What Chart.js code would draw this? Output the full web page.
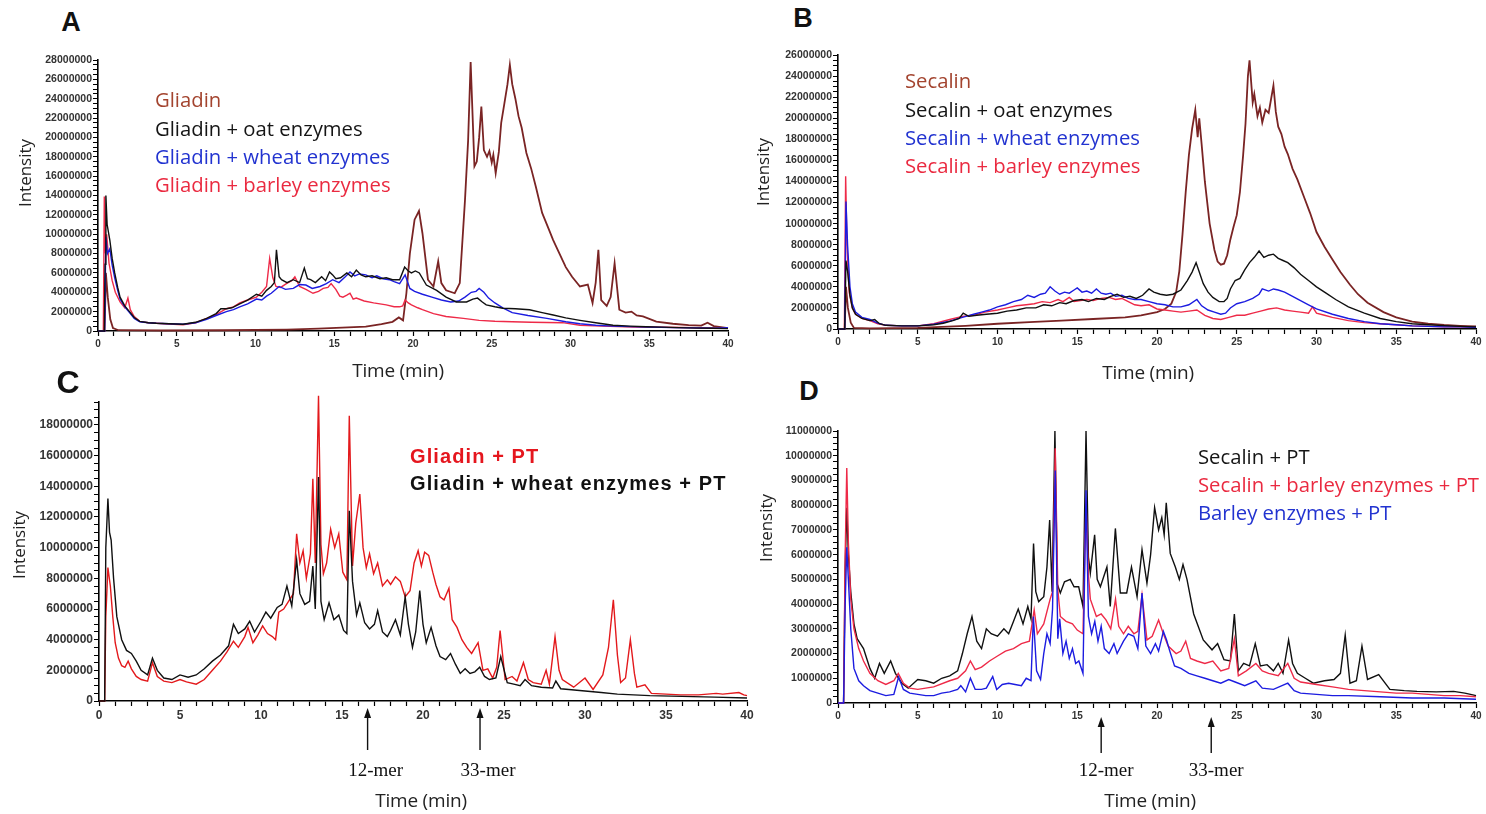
<!DOCTYPE html>
<html>
<head>
<meta charset="utf-8">
<title>Chromatograms</title>
<script src="https://cdn.jsdelivr.net/npm/chart.js@4.4.0/dist/chart.umd.min.js"></script>
<style>
  body { margin: 0; width: 1486px; height: 814px; background: #fff; position: relative; overflow: hidden; font-family: "Open Sans", Lato, sans-serif; }
  canvas { position: absolute; }
  .t { position: absolute; white-space: nowrap; line-height: 1; }
  .c { transform: translate(-50%, -50%); }
  .l { transform: translate(0, -50%); }
  .letter { font-family: "Liberation Sans", Arial, sans-serif; font-weight: bold; font-size: 27px; color: #111; }
  .ytitle { font-size: 17px; color: #222; transform: translate(-50%, -50%) rotate(-90deg); }
  .xtitle { font-size: 19px; color: #222; letter-spacing: -0.2px; }
  .leg { font-size: 20.3px; }
  .legc { font-family: "Liberation Sans", Arial, sans-serif; font-weight: bold; font-size: 20px; letter-spacing: 1.1px; }
</style>
</head>
<body>
<canvas id="chartA"></canvas>
<canvas id="chartB"></canvas>
<canvas id="chartC"></canvas>
<canvas id="chartD"></canvas>

<div class="t c letter" style="left:71px;top:22px">A</div>
<div class="t c letter" style="left:803px;top:18px">B</div>
<div class="t c letter" style="left:68px;top:382px;font-size:32px">C</div>
<div class="t c letter" style="left:809px;top:391px">D</div>

<div class="t ytitle" style="left:24px;top:173px">Intensity</div>
<div class="t ytitle" style="left:762px;top:172px">Intensity</div>
<div class="t ytitle" style="left:18px;top:545px">Intensity</div>
<div class="t ytitle" style="left:765px;top:528px">Intensity</div>

<div class="t c xtitle" style="left:398px;top:370px">Time (min)</div>
<div class="t c xtitle" style="left:1148px;top:372px">Time (min)</div>
<div class="t c xtitle" style="left:421px;top:800px">Time (min)</div>
<div class="t c xtitle" style="left:1150px;top:800px">Time (min)</div>

<div class="t l leg" style="left:155px;top:99px;color:#a3442f">Gliadin</div>
<div class="t l leg" style="left:155px;top:128px;color:#151515">Gliadin + oat enzymes</div>
<div class="t l leg" style="left:155px;top:156px;color:#2233d0">Gliadin + wheat enzymes</div>
<div class="t l leg" style="left:155px;top:184px;color:#ea2a40">Gliadin + barley enzymes</div>

<div class="t l leg" style="left:905px;top:80px;color:#a3442f">Secalin</div>
<div class="t l leg" style="left:905px;top:109px;color:#151515">Secalin + oat enzymes</div>
<div class="t l leg" style="left:905px;top:137px;color:#2233d0">Secalin + wheat enzymes</div>
<div class="t l leg" style="left:905px;top:165px;color:#ea2a40">Secalin + barley enzymes</div>

<div class="t l legc" style="left:410px;top:456px;color:#e5161e">Gliadin + PT</div>
<div class="t l legc" style="left:410px;top:483px;color:#111">Gliadin + wheat enzymes + PT</div>

<div class="t l leg" style="left:1198px;top:456px;color:#151515">Secalin + PT</div>
<div class="t l leg" style="left:1198px;top:484px;color:#ea2a40">Secalin + barley enzymes + PT</div>
<div class="t l leg" style="left:1198px;top:512px;color:#2233d0">Barley enzymes + PT</div>

<script>
// values are [time in min, intensity in millions]

// panel A
const gliadinA = [[0,0],[0.42,0],[0.5,6],[0.62,3.5],[0.78,1.2],[0.95,0.3],[1.3,0.08],[4,0.05],[8,0.08],[12,0.15],[14,0.25],[15.5,0.35],[17,0.45],[18,0.7],[18.7,0.95],[19.1,1.4],[19.37,1.1],[19.58,3.9],[19.8,8.0],[20.1,11.5],[20.38,12.4],[20.6,10.1],[20.95,5.3],[21.3,4.6],[21.6,7.2],[21.8,4.95],[22.1,4.2],[22.65,3.9],[22.97,4.95],[23.3,13.5],[23.5,19.7],[23.66,27.8],[23.9,17.0],[24.05,17.5],[24.2,20],[24.34,23.2],[24.5,18.7],[24.7,18.0],[24.85,18.6],[25.0,17.4],[25.1,18.2],[25.25,16.3],[25.45,18.5],[25.6,21.5],[25.8,23.5],[26.0,25.5],[26.15,27.5],[26.3,25.5],[26.5,24],[26.7,22.2],[26.9,21],[27.2,18.4],[27.5,16.8],[27.8,14.9],[28.2,12.2],[28.6,10.6],[28.9,9.4],[29.3,8.0],[29.7,6.6],[30.1,5.6],[30.6,4.6],[31.1,4.8],[31.4,2.9],[31.6,5.0],[31.77,8.4],[31.95,3.2],[32.3,2.6],[32.55,3.5],[32.8,7.0],[33.1,2.2],[33.5,1.9],[33.87,2.0],[34.2,1.6],[34.6,1.5],[35.45,0.96],[36.5,0.75],[37.5,0.6],[38.3,0.55],[38.7,0.86],[39.1,0.5],[40,0.3]];
const oatA = [[0,0],[0.4,0],[0.45,6.9],[0.5,14.0],[0.58,11],[0.75,9.4],[0.9,7.5],[1.06,6.0],[1.25,4.5],[1.4,3.5],[1.7,2.6],[2.0,2.0],[2.3,1.4],[2.65,1.0],[3.2,0.85],[3.7,0.8],[4.5,0.75],[5.4,0.7],[6.2,0.9],[6.9,1.3],[7.5,1.8],[7.8,2.3],[8.15,2.3],[8.5,2.4],[9.0,2.8],[9.5,3.2],[10.06,3.8],[10.4,3.6],[10.7,4.2],[11.0,4.6],[11.2,5.0],[11.33,8.4],[11.5,5.6],[11.65,5.3],[12.0,5.0],[12.4,5.3],[12.8,5.0],[13.1,6.5],[13.3,5.4],[13.5,5.3],[13.8,5.0],[14.2,5.6],[14.45,5.2],[14.7,6.1],[14.9,5.8],[15.1,5.4],[15.4,5.5],[15.8,6.0],[16.1,5.6],[16.4,6.3],[16.7,5.8],[17.0,5.6],[17.4,5.7],[17.9,5.4],[18.3,5.5],[18.7,5.3],[19.15,5.3],[19.47,6.6],[19.7,6.2],[19.9,6.0],[20.15,6.2],[20.4,6.0],[20.85,4.75],[21.5,4.2],[22.1,3.5],[22.75,3.0],[23.4,3.0],[23.8,3.3],[24.1,3.4],[24.4,3.0],[24.65,2.7],[25.2,2.5],[25.7,2.35],[26.5,2.3],[27.4,2.2],[28.2,1.9],[28.9,1.65],[29.7,1.35],[30.6,1.1],[31.6,0.85],[32.7,0.6],[33.8,0.5],[34.8,0.44],[35.8,0.4],[36.9,0.35],[38,0.3],[39,0.28],[40,0.25]];
const wheatA = [[0,0],[0.42,0],[0.5,9.7],[0.6,8],[0.75,8.5],[0.9,6.8],[1.06,5.5],[1.25,4.2],[1.4,3.3],[1.7,2.5],[2.0,1.9],[2.3,1.3],[2.65,0.95],[3.2,0.85],[3.7,0.8],[4.5,0.75],[5.4,0.7],[6.2,0.85],[6.9,1.2],[7.5,1.6],[8.15,2.0],[8.6,2.2],[9.0,2.5],[9.5,2.8],[10.06,3.3],[10.4,3.2],[10.7,3.6],[11.0,3.9],[11.5,4.6],[11.9,4.3],[12.4,4.4],[12.8,4.8],[13.2,4.75],[13.6,4.4],[14.1,4.6],[14.5,4.9],[14.9,5.3],[15.3,5.0],[15.7,5.6],[16.0,6.1],[16.3,5.7],[16.6,5.9],[17.0,5.8],[17.4,5.5],[17.7,5.7],[18.1,5.4],[18.5,5.3],[18.8,5.1],[19.15,4.9],[19.5,5.8],[19.8,4.4],[20.1,4.1],[20.6,3.8],[21.2,3.5],[21.8,3.2],[22.4,3.0],[22.9,3.1],[23.3,3.5],[23.7,4.0],[24.0,4.1],[24.2,4.4],[24.5,4.0],[24.8,3.4],[25.2,2.9],[25.7,2.4],[26.3,1.9],[27.3,1.6],[28.5,1.3],[29.7,0.95],[30.6,0.75],[31.6,0.6],[32.7,0.5],[33.8,0.45],[35,0.4],[36.5,0.35],[38,0.32],[39.2,0.3],[40,0.35]];
const barleyA = [[0,0],[0.34,0],[0.4,13.9],[0.47,8],[0.55,10],[0.7,7],[0.9,5.2],[1.1,4.0],[1.4,3.0],[1.7,2.4],[1.9,3.4],[2.05,2.2],[2.3,1.5],[2.65,1.0],[3.2,0.85],[3.7,0.8],[4.5,0.72],[5.4,0.65],[6.2,0.85],[6.9,1.3],[7.5,1.7],[8.15,2.3],[8.6,2.5],[9.0,2.9],[9.5,3.2],[10.06,3.5],[10.4,4.0],[10.7,4.6],[10.9,7.5],[11.1,5.5],[11.3,4.6],[11.6,4.5],[11.96,4.9],[12.3,5.2],[12.5,5.6],[12.8,4.6],[13.2,4.3],[13.65,3.9],[14.0,4.1],[14.3,4.4],[14.6,4.5],[14.8,4.9],[15.1,4.3],[15.35,3.6],[15.55,3.5],[15.8,3.7],[16.0,3.9],[16.2,3.3],[16.4,3.4],[16.9,3.1],[17.5,2.9],[18.3,2.7],[18.8,2.5],[19.15,2.5],[19.35,2.6],[19.5,3.2],[19.7,2.9],[19.9,2.7],[20.3,2.4],[20.6,2.2],[21.3,1.8],[22.1,1.5],[23.2,1.3],[24.2,1.1],[25.2,1.0],[26.3,0.96],[27.5,0.9],[28.5,0.88],[29.5,0.86],[30.6,0.6],[32,0.5],[34,0.42],[36,0.38],[38,0.33],[40,0.3]];

// panel B
const secalinB = [[0,0],[0.42,0],[0.5,4],[0.62,2],[0.8,0.6],[1.0,0.1],[2,0.05],[5,0.1],[8,0.3],[10,0.5],[12,0.65],[14,0.8],[16,0.95],[18,1.1],[19,1.3],[20,1.6],[20.5,1.9],[20.9,2.4],[21.2,3.5],[21.4,5.5],[21.6,9],[21.8,13],[22.0,16.5],[22.2,19],[22.4,20.8],[22.55,18.2],[22.65,20.0],[22.8,17.5],[23.0,14],[23.3,10],[23.6,7.5],[23.8,6.4],[24.0,6.1],[24.2,6.2],[24.4,7.0],[24.6,8.5],[24.8,9.7],[25.0,10.8],[25.2,13],[25.4,16.5],[25.55,19.5],[25.7,24],[25.8,25.5],[25.9,23.5],[26.0,21.5],[26.1,22.3],[26.3,20.2],[26.45,21],[26.6,19.6],[26.8,20.8],[27.0,20.5],[27.15,21.8],[27.3,23.1],[27.45,20.6],[27.6,19.2],[27.8,18.5],[28.0,17.3],[28.2,16.6],[28.5,15.2],[28.8,14.2],[29.2,12.6],[29.6,11],[30.0,9.2],[30.5,7.8],[31.0,6.6],[31.5,5.4],[32.1,4.2],[32.6,3.3],[33.2,2.5],[34.2,1.6],[35,1.1],[36,0.7],[37,0.5],[38,0.38],[39,0.3],[40,0.25]];
const oatB = [[0,0],[0.42,0],[0.5,6.5],[0.6,5.5],[0.75,3.2],[0.9,2.0],[1.1,1.4],[1.5,1.0],[2.0,0.8],[2.3,0.9],[2.6,0.5],[3,0.35],[4,0.3],[5,0.3],[6,0.4],[6.6,0.55],[7.2,0.8],[7.6,1.0],[7.85,1.5],[8.2,1.2],[8.7,1.3],[9.3,1.4],[10,1.5],[10.6,1.7],[11.2,1.8],[11.8,2.0],[12.4,2.0],[12.9,2.3],[13.4,2.2],[13.9,2.5],[14.3,2.4],[14.8,2.7],[15.3,2.8],[15.7,2.6],[16.2,2.9],[16.7,2.8],[17.1,3.1],[17.5,3.3],[17.9,3.0],[18.3,3.1],[18.7,2.9],[19.1,3.2],[19.5,3.8],[19.8,3.5],[20.2,3.3],[20.6,3.2],[21.0,3.3],[21.5,3.7],[21.9,4.6],[22.2,5.4],[22.45,6.3],[22.65,5.4],[22.9,4.3],[23.2,3.5],[23.5,3.0],[23.9,2.6],[24.2,2.6],[24.4,2.9],[24.6,3.8],[24.9,4.6],[25.2,4.8],[25.5,5.6],[25.8,6.3],[26.1,6.8],[26.4,7.4],[26.7,6.8],[27.0,7.0],[27.3,7.1],[27.6,6.7],[27.9,6.5],[28.2,6.3],[28.6,5.8],[29.0,5.2],[29.5,4.6],[30.0,4.0],[30.6,3.4],[31.2,2.8],[32.0,2.1],[33.0,1.5],[34,1.0],[35,0.7],[36,0.5],[37,0.4],[38,0.32],[39,0.25],[40,0.2]];
const wheatB = [[0,0],[0.42,0],[0.5,12.1],[0.6,8],[0.75,4],[0.9,2.4],[1.1,1.6],[1.5,1.1],[2.0,0.9],[2.5,0.55],[3,0.35],[4,0.3],[5,0.3],[6,0.45],[7,0.75],[7.8,1.1],[8.5,1.4],[9.0,1.6],[9.5,1.8],[10.0,2.1],[10.5,2.3],[11.0,2.6],[11.5,2.8],[11.9,3.2],[12.3,3.0],[12.7,3.3],[13.0,3.4],[13.3,4.0],[13.6,3.6],[13.9,3.3],[14.2,3.5],[14.5,3.4],[14.8,3.7],[15.0,3.9],[15.3,3.5],[15.6,3.6],[15.9,3.4],[16.2,3.8],[16.5,3.4],[16.8,3.3],[17.1,3.4],[17.4,3.1],[17.8,3.2],[18.2,2.9],[18.6,2.8],[19.0,2.8],[19.5,2.6],[20.0,2.4],[20.5,2.3],[21.0,2.1],[21.5,2.1],[22.0,2.3],[22.5,2.8],[22.8,2.2],[23.2,1.8],[23.6,1.6],[24.0,1.4],[24.3,1.5],[24.6,2.0],[25.0,2.4],[25.5,2.6],[26.0,2.9],[26.4,3.3],[26.6,3.8],[27.0,3.6],[27.3,3.8],[27.6,3.7],[28.0,3.5],[28.5,3.1],[29.0,2.7],[29.5,2.3],[30.0,1.9],[31.0,1.4],[32.0,1.0],[33,0.7],[34,0.5],[35,0.4],[36,0.3],[37,0.25],[38,0.2],[39,0.2],[40,0.15]];
const barleyB = [[0,0],[0.4,0],[0.48,14.5],[0.56,8],[0.7,3.5],[0.9,2.0],[1.1,1.4],[1.5,1.0],[2.0,0.8],[2.5,0.5],[3,0.35],[4,0.3],[5,0.3],[6,0.5],[7,0.9],[7.8,1.2],[8.5,1.3],[9.2,1.6],[10,1.8],[10.6,2.0],[11.2,2.2],[11.8,2.3],[12.3,2.4],[12.8,2.6],[13.3,2.5],[13.8,2.8],[14.1,2.6],[14.5,3.0],[14.8,2.6],[15.2,2.7],[15.6,2.8],[16.0,2.7],[16.5,2.9],[17.0,3.0],[17.4,2.8],[17.8,2.9],[18.2,2.6],[18.6,2.3],[19.0,2.2],[19.5,2.3],[20.0,1.9],[20.5,1.8],[21.0,1.7],[21.5,1.6],[22.0,1.7],[22.5,1.8],[23.0,1.3],[23.5,1.0],[24.0,0.9],[24.5,1.1],[25.0,1.3],[25.5,1.3],[26.0,1.5],[26.5,1.7],[27.0,1.9],[27.5,2.0],[28.0,1.8],[28.5,1.7],[29.0,1.6],[29.5,1.5],[29.75,2.1],[30.0,1.5],[30.5,1.3],[31.0,1.1],[32.0,0.8],[33,0.6],[34,0.5],[35,0.4],[36,0.3],[37,0.25],[38,0.2],[39,0.2],[40,0.15]];

// panel C
const gliadinPtC = [[0,0],[0.35,0],[0.42,5.5],[0.55,8.7],[0.7,7.5],[0.85,5.5],[1.0,3.8],[1.2,2.8],[1.4,2.3],[1.6,2.2],[1.8,2.6],[2.0,2.1],[2.3,1.6],[2.6,1.4],[3.0,1.3],[3.3,2.5],[3.6,1.6],[4.0,1.3],[4.5,1.2],[5.0,1.4],[5.4,1.25],[6.0,1.1],[6.5,1.4],[7.0,2.0],[7.5,2.6],[7.9,3.2],[8.3,3.9],[8.6,3.5],[9.0,4.2],[9.2,4.8],[9.5,3.8],[9.8,4.3],[10.1,4.9],[10.4,4.4],[10.7,4.2],[10.9,4.0],[11.1,5.8],[11.4,6.0],[11.7,6.5],[12.0,7.0],[12.2,10.9],[12.4,9.0],[12.6,9.8],[12.8,8.0],[13.05,9.6],[13.2,14.5],[13.35,9.0],[13.55,19.9],[13.7,10.2],[13.85,8.3],[14.05,9.0],[14.3,11.2],[14.55,10.0],[14.8,10.9],[15.05,8.4],[15.3,7.9],[15.45,18.6],[15.65,8.8],[15.85,11.6],[16.1,13.5],[16.3,10.0],[16.5,8.7],[16.7,9.6],[16.95,8.3],[17.2,9.0],[17.5,7.5],[17.8,7.9],[18.0,7.6],[18.3,8.1],[18.6,7.8],[18.9,6.8],[19.2,7.2],[19.45,9.0],[19.7,9.8],[19.9,8.8],[20.1,9.7],[20.35,9.5],[20.6,8.4],[20.8,7.6],[21.05,6.8],[21.3,6.6],[21.6,7.35],[21.8,5.3],[22.1,4.8],[22.4,4.0],[22.7,3.5],[23.0,3.1],[23.4,3.8],[23.7,2.0],[24.0,2.1],[24.3,1.5],[24.55,2.2],[24.76,4.6],[25.07,1.4],[25.5,1.6],[25.8,1.3],[26.2,2.5],[26.5,1.4],[26.8,1.2],[27.3,1.1],[27.6,2.0],[27.8,1.1],[28.15,4.2],[28.4,2.0],[28.6,1.4],[29.3,0.9],[30.0,1.5],[30.5,0.75],[31.1,1.7],[31.45,3.5],[31.75,6.6],[32.0,3.0],[32.2,1.2],[32.5,1.5],[32.8,4.0],[33.05,1.8],[33.2,0.9],[33.7,1.05],[34.1,0.5],[35,0.45],[35.9,0.4],[37,0.4],[38.1,0.5],[38.5,0.45],[39.5,0.55],[39.8,0.4],[40,0.35]];
const wheatPtC = [[0,0],[0.35,0],[0.42,10],[0.55,13.2],[0.65,11],[0.75,10.5],[0.9,8],[1.1,5.5],[1.4,4.0],[1.7,3.3],[2.0,3.1],[2.3,2.6],[2.6,2.0],[3.0,1.7],[3.3,2.8],[3.6,2.0],[4.0,1.5],[4.5,1.4],[5.0,1.7],[5.5,1.55],[6.0,1.7],[6.5,2.1],[7.0,2.6],[7.5,3.0],[8.0,3.6],[8.3,5.0],[8.6,4.4],[9.0,4.7],[9.3,5.2],[9.6,4.5],[10.0,5.2],[10.3,5.8],[10.6,5.4],[11.0,6.1],[11.3,6.3],[11.6,7.5],[11.9,6.2],[12.2,9.2],[12.4,7.0],[12.7,6.3],[13.0,6.5],[13.2,8.8],[13.35,6.0],[13.55,14.6],[13.7,6.5],[13.9,5.3],[14.2,6.4],[14.5,5.3],[14.8,5.6],[15.1,4.6],[15.3,4.4],[15.45,12.4],[15.65,7.8],[15.9,5.6],[16.1,6.4],[16.4,5.1],[16.7,4.7],[17.0,5.0],[17.2,5.9],[17.5,4.5],[17.8,4.2],[18.0,4.6],[18.3,5.3],[18.6,4.3],[18.9,6.8],[19.1,5.0],[19.35,3.5],[19.55,4.5],[19.8,7.2],[20.0,5.0],[20.2,3.8],[20.5,4.8],[20.8,3.6],[21.05,2.9],[21.4,2.7],[21.7,3.1],[22.0,2.4],[22.3,1.8],[22.6,2.1],[22.9,1.8],[23.2,1.9],[23.5,2.2],[23.8,1.6],[24.1,1.4],[24.5,1.5],[24.8,2.9],[25.2,1.2],[25.6,1.1],[26.0,1.0],[26.3,1.4],[26.7,1.0],[27.3,0.9],[28.0,0.85],[28.2,1.3],[28.5,0.8],[29.0,0.75],[30.0,0.65],[31,0.55],[32.0,0.45],[33,0.4],[34.0,0.35],[36.0,0.3],[38.0,0.25],[40,0.2]];

// panel D
const secalinPtD = [[0,0],[0.35,0],[0.45,5.5],[0.55,7.9],[0.65,6.0],[0.8,4.5],[1.0,3.2],[1.2,2.6],[1.4,2.4],[1.6,2.2],[1.8,1.8],[2.0,1.4],[2.3,1.0],[2.6,1.6],[2.9,1.2],[3.3,1.7],[3.6,1.2],[4.0,0.8],[4.4,0.6],[5.0,0.95],[5.5,0.9],[6.0,0.8],[6.5,1.0],[7.0,1.1],[7.5,1.3],[7.8,2.0],[8.1,2.8],[8.4,3.5],[8.7,2.5],[9.0,2.2],[9.3,3.0],[9.6,2.8],[10.0,2.7],[10.4,3.0],[10.7,2.8],[11.0,3.3],[11.3,3.8],[11.6,3.2],[11.9,3.9],[12.1,3.4],[12.26,6.45],[12.4,4.5],[12.58,4.1],[12.9,4.3],[13.1,5.5],[13.27,7.4],[13.42,4.5],[13.6,11.0],[13.75,4.8],[13.94,4.45],[14.2,4.9],[14.56,5.0],[14.8,4.7],[15.09,4.7],[15.36,3.9],[15.55,11.0],[15.7,5.9],[15.82,5.25],[16.09,6.8],[16.25,5.0],[16.45,4.7],[16.86,5.5],[17.07,3.9],[17.39,7.06],[17.7,4.45],[18.1,4.45],[18.4,5.5],[18.75,4.3],[19.06,6.2],[19.37,4.85],[19.6,6.0],[19.85,7.9],[20.1,7.0],[20.3,7.5],[20.45,6.8],[20.58,8.1],[20.83,6.05],[21.15,5.5],[21.4,5.0],[21.63,5.6],[21.88,5.0],[22.3,3.6],[22.9,2.55],[23.45,2.15],[23.8,2.4],[24.2,1.75],[24.6,1.7],[24.85,3.6],[25.1,1.3],[25.43,1.6],[25.8,1.5],[26.16,2.4],[26.48,1.5],[26.9,1.55],[27.3,1.3],[27.6,1.6],[27.9,1.2],[28.25,2.55],[28.5,1.6],[28.8,1.2],[29.3,1.0],[29.8,0.8],[30.5,0.9],[31.1,0.95],[31.5,1.2],[31.8,2.75],[32.1,0.8],[32.5,0.9],[32.85,2.3],[33.2,0.95],[33.9,1.15],[34.6,0.55],[35.5,0.5],[36.3,0.47],[37.5,0.45],[38.6,0.47],[39.3,0.4],[39.8,0.33],[40,0.3]];
const barleyPtD = [[0,0],[0.35,0],[0.45,6],[0.55,9.5],[0.65,6.5],[0.8,4.2],[1.0,3.0],[1.3,2.2],[1.6,1.7],[2.0,1.2],[2.5,0.9],[3.0,0.75],[3.5,0.9],[3.78,1.2],[4.1,0.8],[4.5,0.6],[5.0,0.55],[6.0,0.65],[7.0,0.9],[7.5,1.0],[8.0,1.3],[8.3,1.7],[8.6,1.35],[9.0,1.45],[9.5,1.7],[10.0,1.9],[10.5,2.1],[11.0,2.2],[11.5,2.4],[12.0,2.5],[12.3,3.76],[12.5,2.8],[12.9,3.2],[13.3,4.2],[13.45,4.5],[13.62,10.3],[13.78,4.6],[13.94,3.5],[14.3,3.3],[14.7,3.2],[15.0,2.95],[15.36,2.8],[15.55,8.2],[15.7,5.2],[15.82,4.2],[16.2,3.5],[16.5,3.6],[16.8,3.36],[17.1,3.0],[17.4,4.2],[17.6,3.1],[17.9,2.8],[18.2,3.1],[18.55,2.8],[18.8,2.9],[19.06,4.37],[19.37,2.55],[19.7,2.7],[20.1,3.36],[20.4,2.8],[20.7,2.3],[21.2,2.0],[21.5,2.1],[21.8,2.5],[22.1,1.8],[22.5,1.7],[23.0,1.6],[23.5,1.7],[24.0,1.3],[24.5,1.4],[24.85,2.6],[25.1,1.1],[25.6,1.3],[26.2,1.6],[26.6,1.3],[27.0,1.2],[27.6,1.1],[28.2,1.6],[28.6,1.0],[29.0,0.85],[30.0,0.75],[31.0,0.65],[32.0,0.55],[33.0,0.5],[34.0,0.45],[35.0,0.4],[36.0,0.4],[37.0,0.35],[38.0,0.3],[39.0,0.3],[40,0.25]];
const enzymesPtD = [[0,0],[0.35,0],[0.45,4],[0.55,6.3],[0.65,5.0],[0.8,3.0],[1.0,1.4],[1.3,0.9],[1.6,0.7],[2.0,0.5],[2.5,0.4],[3.0,0.3],[3.5,0.35],[3.8,1.05],[4.1,0.55],[4.5,0.4],[5.0,0.35],[5.5,0.3],[6.0,0.3],[6.5,0.4],[7.0,0.45],[7.5,0.55],[7.7,0.7],[8.0,0.45],[8.3,1.0],[8.6,0.55],[9.0,0.55],[9.3,0.6],[9.7,1.07],[9.95,0.55],[10.3,0.75],[10.7,0.8],[11.1,0.75],[11.5,0.7],[11.8,1.0],[12.1,0.9],[12.25,3.5],[12.45,1.3],[12.7,0.95],[12.9,2.0],[13.1,2.8],[13.3,2.4],[13.45,3.8],[13.62,9.4],[13.78,2.6],[13.9,3.4],[14.1,2.0],[14.3,2.5],[14.5,1.8],[14.7,2.2],[14.9,1.6],[15.1,1.7],[15.36,1.2],[15.55,8.6],[15.7,3.5],[15.9,2.8],[16.1,3.3],[16.3,2.5],[16.5,3.1],[16.7,2.2],[17.0,2.0],[17.3,2.4],[17.5,2.0],[17.9,2.5],[18.2,2.8],[18.55,2.7],[18.8,2.2],[19.06,4.45],[19.3,2.3],[19.6,2.0],[19.9,2.4],[20.1,2.1],[20.4,2.9],[20.6,2.55],[20.8,2.1],[21.1,1.5],[21.5,1.4],[22.0,1.2],[22.5,1.1],[23.0,1.0],[23.5,0.9],[24.0,0.8],[24.5,0.95],[24.9,0.85],[25.5,0.7],[26.2,0.9],[26.6,0.6],[27.3,0.55],[28.2,0.8],[28.6,0.5],[29.0,0.4],[30.0,0.35],[31.0,0.3],[32.0,0.3],[34.0,0.25],[36.0,0.2],[38.0,0.2],[40,0.15]];

const markerTimesC = [16.58, 23.52];
const markerTimesD = [16.5, 23.4];
const markerLabels = ['12-mer', '33-mer'];

const BROWN = '#7a2424', BLACK = '#101010', BLUE = '#1c1ce0', RED = '#ee2a48', REDC = '#e3191c';

Chart.defaults.font.family = '"Liberation Sans", Arial, sans-serif';

// arrows + peptide names under the time axis
const markerPlugin = {
  id: 'markers',
  afterDraw(chart, args, opts) {
    if (!opts.times) return;
    const ctx = chart.ctx;
    const bottom = chart.chartArea.bottom;
    ctx.save();
    ctx.strokeStyle = '#111';
    ctx.fillStyle = '#111';
    ctx.lineWidth = 1.4;
    opts.times.forEach(function(t, i) {
      const px = chart.scales.x.getPixelForValue(t);
      const tip = bottom + opts.tip;
      ctx.beginPath();
      ctx.moveTo(px, tip + 6);
      ctx.lineTo(px, bottom + opts.tail);
      ctx.stroke();
      ctx.beginPath();
      ctx.moveTo(px, tip);
      ctx.lineTo(px - 3.5, tip + 10);
      ctx.lineTo(px + 3.5, tip + 10);
      ctx.closePath();
      ctx.fill();
      ctx.font = '19px "Liberation Serif", "Times New Roman", serif';
      ctx.textAlign = 'center';
      ctx.textBaseline = 'middle';
      ctx.fillText(opts.labels[i], px + opts.dx, bottom + opts.textY);
    });
    ctx.restore();
  }
};

function toPoints(arr) {
  return arr.map(function(p) { return { x: p[0], y: p[1] * 1e6 }; });
}

function panel(id, box, axis, series, markers) {
  const canvas = document.getElementById(id);
  canvas.width = box.w;
  canvas.height = box.h;
  canvas.style.left = box.x + 'px';
  canvas.style.top = box.y + 'px';

  return new Chart(canvas, {
    type: 'line',
    data: {
      datasets: series.map(function(s) {
        return { data: toPoints(s.data), borderColor: s.color, borderWidth: s.width || 1.4, pointRadius: 0, tension: 0, fill: false, clip: false };
      })
    },
    options: {
      responsive: false,
      animation: false,
      events: [],
      layout: { padding: { top: box.padTop, right: box.padRight, left: 0, bottom: 0 } },
      plugins: { legend: { display: false }, tooltip: { enabled: false }, markers: markers || {} },
      scales: {
        x: {
          type: 'linear', min: 0, max: 40,
          grid: { drawOnChartArea: false, tickLength: 5, color: '#000', tickWidth: 1.2 },
          border: { color: '#000', width: 1.6 },
          ticks: {
            stepSize: 1, autoSkip: false, maxRotation: 0, padding: 2, color: '#333',
            font: { size: axis.xFont, weight: 'bold' },
            callback: function(v) { return v % 5 === 0 ? String(v) : ''; }
          },
          afterFit: function(s) { s.height = box.xH; }
        },
        y: {
          type: 'linear', min: 0, max: axis.max,
          grid: { drawOnChartArea: false, tickLength: 5, color: '#000', tickWidth: 1 },
          border: { color: '#000', width: 1.6 },
          afterBuildTicks: function(s) {
            const list = [];
            for (let i = 0; i * axis.minor <= axis.max + 1; i++) list.push({ value: i * axis.minor });
            s.ticks = list;
          },
          ticks: {
            autoSkip: false, padding: 1, color: '#333',
            font: { size: axis.yFont, weight: 'bold' },
            callback: function(v) { return Math.round(v) % axis.major === 0 ? String(Math.round(v)) : ''; }
          },
          afterFit: function(s) { s.width = box.yW; }
        }
      }
    },
    plugins: [markerPlugin]
  });
}

panel('chartA',
  { x: 0, y: 40, w: 745, h: 330, yW: 98, xH: 39, padTop: 20, padRight: 17 },
  { max: 28000000, major: 2000000, minor: 500000, yFont: 10.5, xFont: 10 },
  [
    { data: oatA, color: BLACK },
    { data: wheatA, color: BLUE },
    { data: barleyA, color: RED },
    { data: gliadinA, color: BROWN, width: 1.8 }
  ]);

panel('chartB',
  { x: 740, y: 35, w: 746, h: 335, yW: 98, xH: 41, padTop: 20, padRight: 10 },
  { max: 26000000, major: 2000000, minor: 500000, yFont: 10.5, xFont: 10 },
  [
    { data: oatB, color: BLACK },
    { data: wheatB, color: BLUE },
    { data: barleyB, color: RED },
    { data: secalinB, color: BROWN, width: 1.8 }
  ]);

panel('chartC',
  { x: 0, y: 390, w: 760, h: 400, yW: 99, xH: 89, padTop: 12, padRight: 13 },
  { max: 19500000, major: 2000000, minor: 500000, yFont: 12, xFont: 12 },
  [
    { data: wheatPtC, color: BLACK },
    { data: gliadinPtC, color: REDC }
  ],
  { times: markerTimesC, labels: markerLabels, tip: 7, tail: 49, textY: 70, dx: 8 });

panel('chartD',
  { x: 740, y: 420, w: 746, h: 370, yW: 98, xH: 87, padTop: 11, padRight: 10 },
  { max: 11000000, major: 1000000, minor: 250000, yFont: 10.5, xFont: 10 },
  [
    { data: enzymesPtD, color: BLUE },
    { data: barleyPtD, color: RED },
    { data: secalinPtD, color: BLACK }
  ],
  { times: markerTimesD, labels: markerLabels, tip: 14, tail: 50, textY: 68, dx: 5 });
</script>
</body>
</html>
